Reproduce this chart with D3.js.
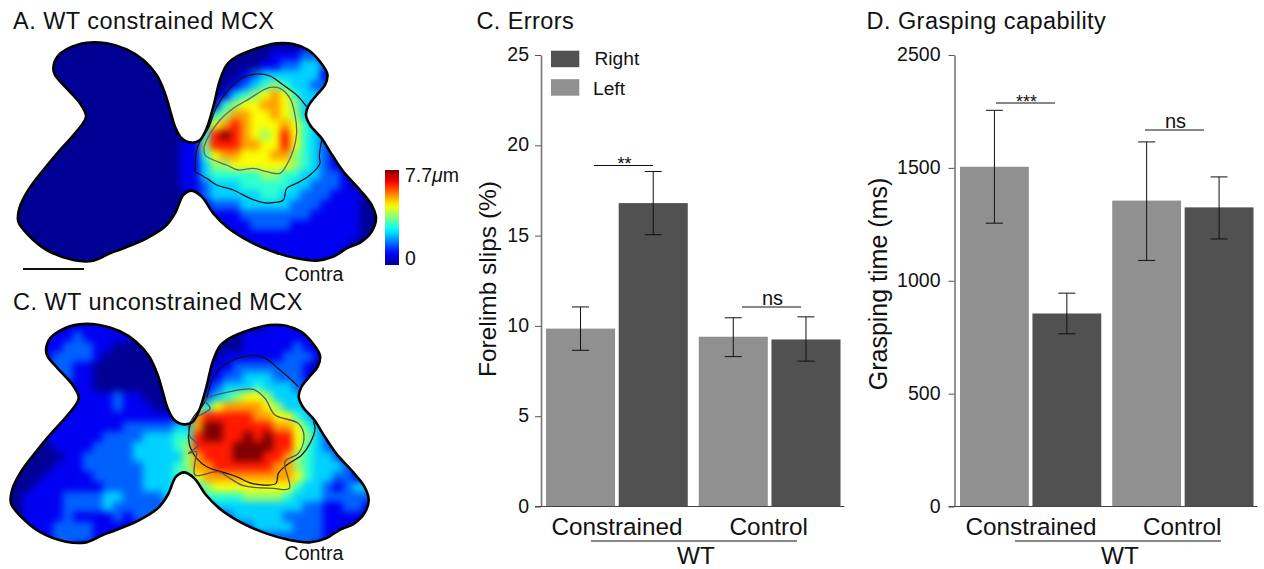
<!DOCTYPE html>
<html><head><meta charset="utf-8">
<script src="https://cdn.jsdelivr.net/npm/d3@7"></script>
<style>
html,body{margin:0;padding:0;background:#fff;overflow:hidden}
text{font-family:"Liberation Sans",Arial,sans-serif;fill:#111}
</style></head><body>
<svg id="fig" width="1264" height="569" viewBox="0 0 1264 569"></svg>
<script>
// ---- bar data ----
const groups = ["Constrained","Control"];
const sides = ["Left","Right"];
const errorsMean = [9.85,16.8,9.4,9.25];
const errorsLow  = [8.65,15.05,8.3,8.05];
const errorsHigh = [11.05,18.55,10.45,10.5];
const graspMean = [1505,855,1355,1325];
const graspLow  = [1255,765,1090,1185];
const graspHigh = [1755,945,1615,1460];
const errorsTicks = [0,5,10,15,20,25];
const graspTicks = [0,500,1000,1500,2000];
const graspTickLabels = ["0","500","1000","1500","2500"];
const legendLabels = ["Right","Left"];

// ---- map outline and contours, read in map units ----
const outline = [[160,205],[172,170],[205,145],[260,128],[320,130],[380,148],[430,180],[470,225],[495,280],[510,330],[525,380],[545,415],[575,428],[600,420],[620,385],[640,320],[660,240],[680,195],[710,170],[770,145],[830,130],[880,132],[925,150],[960,185],[982,222],[975,255],[950,285],[925,318],[918,345],[930,375],[965,415],[990,455],[1030,515],[1080,570],[1115,615],[1128,655],[1115,695],[1085,725],[1040,745],[1000,770],[950,782],[890,775],[820,755],[750,725],[680,680],[640,640],[605,590],[575,572],[550,585],[525,640],[495,680],[440,715],[370,745],[330,760],[280,782],[220,780],[140,750],[85,705],[55,665],[58,625],[85,570],[130,510],[180,450],[225,400],[258,350],[240,310],[195,260],[165,225]];
const contourADark = [[585,515],[590,450],[605,415],[625,385],[650,320],[690,265],[730,232],[770,222],[810,228],[850,255],[890,285],[920,320]];
const contourADark2 = [[965,420],[958,470],[960,490],[930,525],[890,550],[860,565],[850,600],[820,608],[790,608],[750,595],[700,570],[650,555],[620,535],[585,515]];
const contourAGray = [[612,440],[625,410],[660,360],[700,325],[750,295],[790,270],[810,262],[840,265],[870,295],[885,345],[890,400],[880,450],[860,495],[840,520],[800,515],[760,505],[715,510],[680,495],[640,480],[615,465],[612,440]];
const contourCDark = [[587,465],[597,415],[637,360],[662,285],[702,245],[762,223],[812,227],[862,265],[902,300],[917,315]];
const contourCDark2 = [[962,420],[967,440],[952,485],[927,520],[882,550],[857,575],[850,605],[817,610],[777,605],[732,585],[702,575],[642,555],[612,530],[592,495],[587,465]];
const contourCGray = [[587,435],[597,415],[652,380],[637,355],[712,330],[782,323],[817,350],[847,400],[917,425],[934,465],[917,515],[877,540],[890,620],[842,620],[752,612],[712,590],[677,570],[607,580],[607,540],[612,510],[587,515],[617,490],[592,465],[587,435]];

// ---- heat levels 0-9, one string per row ----
const heatA = [
"0000000000 0000000000 0000000000 0000000",
"0000000000 0000000000 0000001112 2100000",
"0000000000 0000000000 0000011223 3210000",
"0000000000 0000000000 0001233333 3100000",
"0000000000 0000000000 0012345433 2200000",
"0000000000 0000000000 0134567643 3200000",
"0000000000 0000000000 1456677653 3200000",
"0000000000 0000000001 4577667653 3100000",
"0000000000 0000000013 6787666764 3200000",
"0000000000 0000000014 8987656864 3210000",
"0000000000 0000000115 8887766864 3210000",
"0000000000 0000000114 6776667754 3211000",
"0000000000 0000000113 5566666654 3210000",
"0000000000 0000000113 4444455443 3221000",
"0000000000 0000000112 3334444433 2221000",
"0000000000 0000000012 3333344332 2211100",
"0000000000 0000000001 2223333322 2111100",
"0000000000 0000000000 1112222222 1111100",
"0000000000 0000000000 0111222211 1111100",
"0000000000 0000000000 0011111111 1111100",
"0000000000 0000000000 0001111111 1111000",
"0000000000 0000000000 0000111111 1110000",
"0000000000 0000000000 0000011111 1000000"];
const heatC = [
"0000001111 1000000000 0000001111 1000000",
"0000111211 1110000000 0000111111 1100000",
"0000112221 1000000000 0000111112 1100000",
"0001122221 0000000000 0011111122 2100000",
"0001222110 0000000000 0112222222 1000000",
"0001222110 0000000000 1122333222 1000000",
"0000111110 0000000000 1233343332 2100000",
"0000011111 1211000000 2345665333 2100000",
"0000001111 1211100004 4677776533 3100000",
"0000011111 1111111127 8888877664 3210000",
"0000111111 1122222337 9988888776 4310000",
"0000111111 2222333448 9988989886 5321000",
"0000011112 2223333458 8889999886 4322100",
"0000001122 2223333357 8889998875 4332100",
"0000011122 2222333457 7888888775 4333210",
"0000111112 2222333446 7777777776 4332210",
"0001111111 2222333444 5666666664 3321233",
"0011112222 3322223333 4444555543 3322222",
"0011112222 3222222222 2333333333 2211221",
"0011112111 1212222222 1123333322 2211110",
"0011122221 1111111110 0012233332 2211100",
"0001122221 1110000000 0001122222 2211000",
"0001122111 0000000000 0000011122 2100000"];

const svg = d3.select("#fig");
const defs = svg.append("defs");

// jet colour scale
const jet = d3.scaleLinear()
  .domain([0,.125,.375,.625,.875,1])
  .range(["#000094","#0000ff","#00ffff","#ffff00","#ff0000","#7f0000"])
  .clamp(true);
const levelColor = d3.scaleLinear()
  .domain([0,1,2,3,4,5,6,7,8,9])
  .range([0,.11,.22,.33,.42,.52,.62,.72,.85,1]);

// map units (three to a screen pixel)
const mapX = d3.scaleLinear().domain([0,1410]).range([0,470]);
const mapY = d3.scaleLinear().domain([0,855]).range([0,285]);
const mapLine = d3.line().x(d=>mapX(d[0])).y(d=>mapY(d[1]));
const closed = mapLine.curve(d3.curveCatmullRomClosed.alpha(.5));
const outlinePath = closed(outline);

defs.append("clipPath").attr("id","mapClip").append("path").attr("d",outlinePath);
const blur = defs.append("filter").attr("id","soft")
  .attr("x","-5%").attr("y","-5%").attr("width","110%").attr("height","110%")
  .attr("color-interpolation-filters","sRGB");
blur.append("feGaussianBlur").attr("stdDeviation",3.8);

function drawMap(dx,dy,rows,contours){
  const g = svg.append("g").attr("transform",`translate(${dx},${dy})`);
  const clip = g.append("g").attr("clip-path","url(#mapClip)");
  clip.append("path").attr("d",outlinePath).attr("fill",jet(0));
  const cells = rows.flatMap((r,j)=>Array.from(r.replace(/ /g,"")).map((c,i)=>({i,j,v:+c})));
  clip.append("g").attr("filter","url(#soft)").selectAll("rect").data(cells).join("rect")
    .attr("x",d=>mapX(30+30*d.i)).attr("y",d=>mapY(120+30*d.j))
    .attr("width",mapX(30)+.5).attr("height",mapY(30)+.5)
    .attr("fill",d=>jet(levelColor(d.v)));
  contours.forEach(c=>{
    g.append("path").attr("d",d3.line().x(d=>mapX(d[0])).y(d=>mapY(d[1])).curve(d3.curveCatmullRom.alpha(.5))(c.pts))
     .attr("fill","none").attr("stroke",c.color).attr("stroke-width",c.w);
  });
  g.append("path").attr("d",outlinePath).attr("fill","none").attr("stroke","#000").attr("stroke-width",2.6);
}
drawMap(0,0,heatA,[
  {pts:contourADark,color:"#111",w:1.2},
  {pts:contourADark2,color:"#111",w:1.2},
  {pts:contourAGray,color:"#666",w:1.3}]);
drawMap(-7.3,281.7,heatC,[
  {pts:contourCDark,color:"#111",w:1.2},
  {pts:contourCDark2,color:"#111",w:1.2},
  {pts:contourCGray,color:"#555",w:1.3}]);

function label(x,y,t,size,anchor,spacing){
  const s = svg.append("text").attr("x",x).attr("y",y).attr("font-size",size)
    .attr("text-anchor",anchor||"start").text(t);
  if(spacing) s.attr("letter-spacing",spacing);
  return s;
}
label(13,29,"A. WT constrained MCX",23.5,"start",.47);
label(13,310,"C. WT unconstrained MCX",23.5,"start",.47);
label(476.5,29,"C. Errors",23.5,"start",.4);
label(866.5,29,"D. Grasping capability",23.5,"start",.45);
label(284.5,281,"Contra",19.6);
label(284.5,560,"Contra",19.6);

// scale bar
svg.append("line").attr("x1",23).attr("x2",84).attr("y1",269).attr("y2",269).attr("stroke","#111").attr("stroke-width",2);

// colour bar
const grad = defs.append("linearGradient").attr("id","jetGrad").attr("x1",0).attr("x2",0).attr("y1",1).attr("y2",0);
d3.range(0,1.001,.05).forEach(t=>grad.append("stop").attr("offset",t).attr("stop-color",jet(t)));
svg.append("rect").attr("x",385).attr("y",170).attr("width",14).attr("height",95).attr("fill","url(#jetGrad)");
const cbt = label(405,182,"7.7",19.5);
cbt.append("tspan").attr("font-style","italic").text("\u03bc");
cbt.append("tspan").text("m");
label(405,265,"0",19.5);

// bar panels
function barPanel(o){
  const y = d3.scaleLinear().domain(o.domain).range([506.5,55]);
  const gx = d3.scaleBand().domain(groups).range(o.xr).paddingInner(.072);
  const sx = d3.scaleBand().domain(sides).range([0,gx.bandwidth()]).paddingInner(.05);
  const rows = groups.flatMap(g=>sides.map(s=>({g,s})));
  rows.forEach((r,i)=>{r.m=o.mean[i];r.lo=o.low[i];r.hi=o.high[i];});
  const colors = {Left:"#909090",Right:"#515151"};
  svg.append("g").selectAll("rect").data(rows).join("rect")
    .attr("x",d=>gx(d.g)+sx(d.s)).attr("width",sx.bandwidth())
    .attr("y",d=>y(d.m)).attr("height",d=>y(0)-y(d.m))
    .attr("fill",d=>colors[d.s]);
  const ax = svg.append("g").attr("transform",`translate(${o.axisX},0)`)
    .call(d3.axisLeft(y).tickValues(o.ticks).tickFormat((d,i)=>o.tickLabels[i]).tickSize(6).tickSizeOuter(0).tickPadding(o.pad));
  ax.select(".domain").attr("stroke","#777").attr("stroke-width",1.6);
  ax.selectAll(".tick line").attr("stroke","#555");
  ax.selectAll("text").attr("font-size",19.5).attr("fill","#111").attr("dy",".29em").attr("font-family",'"Liberation Sans"');
  svg.append("line").attr("x1",o.axisX-6).attr("x2",o.xr[1]+4).attr("y1",y(0)).attr("y2",y(0)).attr("stroke","#444").attr("stroke-width",1);
  const eb = svg.append("g").attr("stroke","#111").attr("stroke-width",1);
  rows.forEach(d=>{
    const cx = gx(d.g)+sx(d.s)+sx.bandwidth()/2;
    eb.append("line").attr("x1",cx).attr("x2",cx).attr("y1",y(d.hi)).attr("y2",y(d.lo));
    [d.hi,d.lo].forEach(v=>eb.append("line").attr("x1",cx-8.5).attr("x2",cx+8.5).attr("y1",y(v)).attr("y2",y(v)));
  });
  // rotated axis title
  svg.append("text").attr("transform",`translate(${o.titleX},${o.titleY}) rotate(-90)`)
    .attr("text-anchor","middle").attr("font-size",o.titleSize).text(o.title);
  // group labels
  label(gx("Constrained")+o.lab1,534.5,"Constrained",24.3,"middle");
  label(gx("Control")+o.lab2,534.5,"Control",24.3,"middle");
  svg.append("line").attr("x1",o.wt[0]).attr("x2",o.wt[1]).attr("y1",541).attr("y2",541).attr("stroke","#111").attr("stroke-width",1);
  label((o.wt[0]+o.wt[1])/2+2,563.5,"WT",24.3,"middle");
  // significance
  o.sig.forEach(s=>{
    svg.append("line").attr("x1",s.x1).attr("x2",s.x2).attr("y1",s.y).attr("y2",s.y).attr("stroke","#111").attr("stroke-width",1);
    label((s.x1+s.x2)/2+1,s.ty,s.t,s.t==="ns"?20:18,"middle");
  });
}
barPanel({domain:[0,25],xr:[546,840.5],axisX:541,pad:6,mean:errorsMean,low:errorsLow,high:errorsHigh,
  ticks:errorsTicks,tickLabels:errorsTicks.map(String),title:"Forelimb slips (%)",titleX:496,titleY:279,titleSize:24.5,
  lab1:71,lab2:70,wt:[591,797],
  sig:[{x1:594,x2:653,y:165.5,t:"**",ty:170},{x1:742,x2:801,y:307,t:"ns",ty:305}]});
barPanel({domain:[0,2000],xr:[960,1253.5],axisX:954.5,pad:8,mean:graspMean,low:graspLow,high:graspHigh,
  ticks:graspTicks,tickLabels:graspTickLabels,title:"Grasping time (ms)",titleX:887,titleY:284,titleSize:25,
  lab1:71,lab2:70,wt:[1015,1221],
  sig:[{x1:996,x2:1055,y:103,t:"***",ty:107.5},{x1:1145,x2:1204,y:130,t:"ns",ty:128}]});

// legend
const legendColors = ["#515151","#909090"];
const ly = d3.scaleBand().domain(legendLabels).range([50.7,95.7]).paddingInner(.42);
svg.append("g").selectAll("rect").data(legendLabels).join("rect")
  .attr("x",551).attr("width",28.3).attr("y",d=>ly(d)).attr("height",ly.bandwidth())
  .attr("fill",(d,i)=>legendColors[i]);
label(594.5,65,"Right",19.2);
label(593,95,"Left",19.2);
</script>
</body></html>
